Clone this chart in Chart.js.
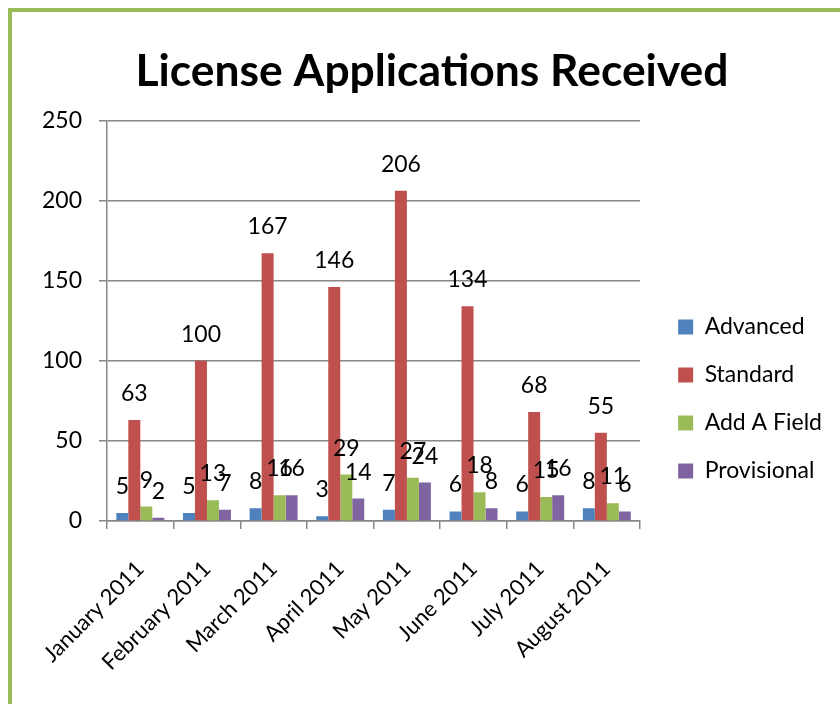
<!DOCTYPE html>
<html>
<head>
<meta charset="utf-8">
<script src="https://cdn.jsdelivr.net/npm/chart.js@4"></script>
<style>
  html, body { margin: 0; padding: 0; background: #fff; overflow: hidden; }
  #wrap { position: relative; width: 840px; height: 704px; }
  #frame {
    position: absolute; left: 8px; top: 8px; width: 900px; height: 800px;
    border-top: 4px solid #9bbb59; border-left: 4px solid #9bbb59;
    pointer-events: none;
  }
  canvas { position: absolute; left: 0; top: 0; }
</style>
</head>
<body>
<div id="wrap">
  <canvas id="chart" width="840" height="704"></canvas>
  <div id="frame"></div>
</div>
<script>
const months = ["January 2011", "February 2011", "March 2011", "April 2011",
  "May 2011", "June 2011", "July 2011", "August 2011"];
const advanced = [5, 5, 8, 3, 7, 6, 6, 8];
const standard = [63, 100, 167, 146, 206, 134, 68, 55];
const addAField = [9, 13, 16, 29, 27, 18, 15, 11];
const provisional = [2, 7, 16, 14, 24, 8, 16, 6];
const yTicks = [0, 50, 100, 150, 200, 250];

const FONT = "Lato, 'Open Sans', sans-serif";
const LINE = "#888888";

// writes each bar's value above it, like excel's "outside end" labels
const valueLabels = {
  id: "valueLabels",
  afterDatasetsDraw(chart) {
    const ctx = chart.ctx;
    ctx.save();
    ctx.font = "23px " + FONT;
    ctx.fillStyle = "#000";
    ctx.textAlign = "center";
    ctx.textBaseline = "alphabetic";
    chart.data.datasets.forEach((ds, i) => {
      chart.getDatasetMeta(i).data.forEach((bar, j) => {
        ctx.fillText(String(ds.data[j]), bar.x, bar.y - 19);
      });
    });
    ctx.restore();
  }
};

const series = [
  { label: "Advanced", data: advanced, color: "#4f81bd" },
  { label: "Standard", data: standard, color: "#c0504d" },
  { label: "Add A Field", data: addAField, color: "#9bbb59" },
  { label: "Provisional", data: provisional, color: "#8064a2" },
];

new Chart(document.getElementById("chart"), {
  type: "bar",
  data: {
    labels: months,
    datasets: series.map((s) => ({
      label: s.label,
      data: s.data,
      backgroundColor: s.color,
      borderWidth: 0,
      barPercentage: 1,
      categoryPercentage: 0.72,
    })),
  },
  options: {
    responsive: false,
    animation: false,
    layout: { padding: { left: 32, right: 8, top: 0, bottom: 0 } },
    plugins: {
      title: {
        display: true,
        text: "License Applications Received",
        color: "#000",
        font: { family: FONT, size: 44.4, weight: "bold" },
        padding: { top: 45, bottom: 22 },
      },
      legend: {
        position: "right",
        maxWidth: 300,
        title: { display: true, text: " ", padding: 0, font: { size: 10, lineHeight: 9.4 } },
        labels: {
          color: "#000",
          font: { family: FONT, size: 23 },
          boxWidth: 15,
          boxHeight: 15,
          padding: 25,
        },
      },
      tooltip: { enabled: false },
    },
    scales: {
      x: {
        grid: { drawOnChartArea: false, drawTicks: true, tickLength: 8, color: LINE, lineWidth: 1.5 },
        border: { color: LINE, width: 1.5 },
        ticks: { color: "#000", font: { family: FONT, size: 22 }, maxRotation: 45, minRotation: 45, padding: 27 },
        afterFit(scale) { scale.height = 183; },
      },
      y: {
        min: 0,
        max: 250,
        afterBuildTicks(scale) { scale.ticks = yTicks.map((v) => ({ value: v })); },
        grid: { color: LINE, lineWidth: 1.5, tickLength: 8 },
        border: { color: LINE, width: 1.5 },
        ticks: { color: "#000", font: { family: FONT, size: 23 }, padding: 17 },
        afterFit(scale) { scale.width = 75; },
      },
      // empty right-hand axis, only keeps the gap between plot and legend
      gap: {
        position: "right",
        display: true,
        grid: { display: false },
        border: { display: false },
        ticks: { display: false },
        afterFit(scale) { scale.width = 13; },
      },
    },
  },
  plugins: [valueLabels],
});
</script>
</body>
</html>
